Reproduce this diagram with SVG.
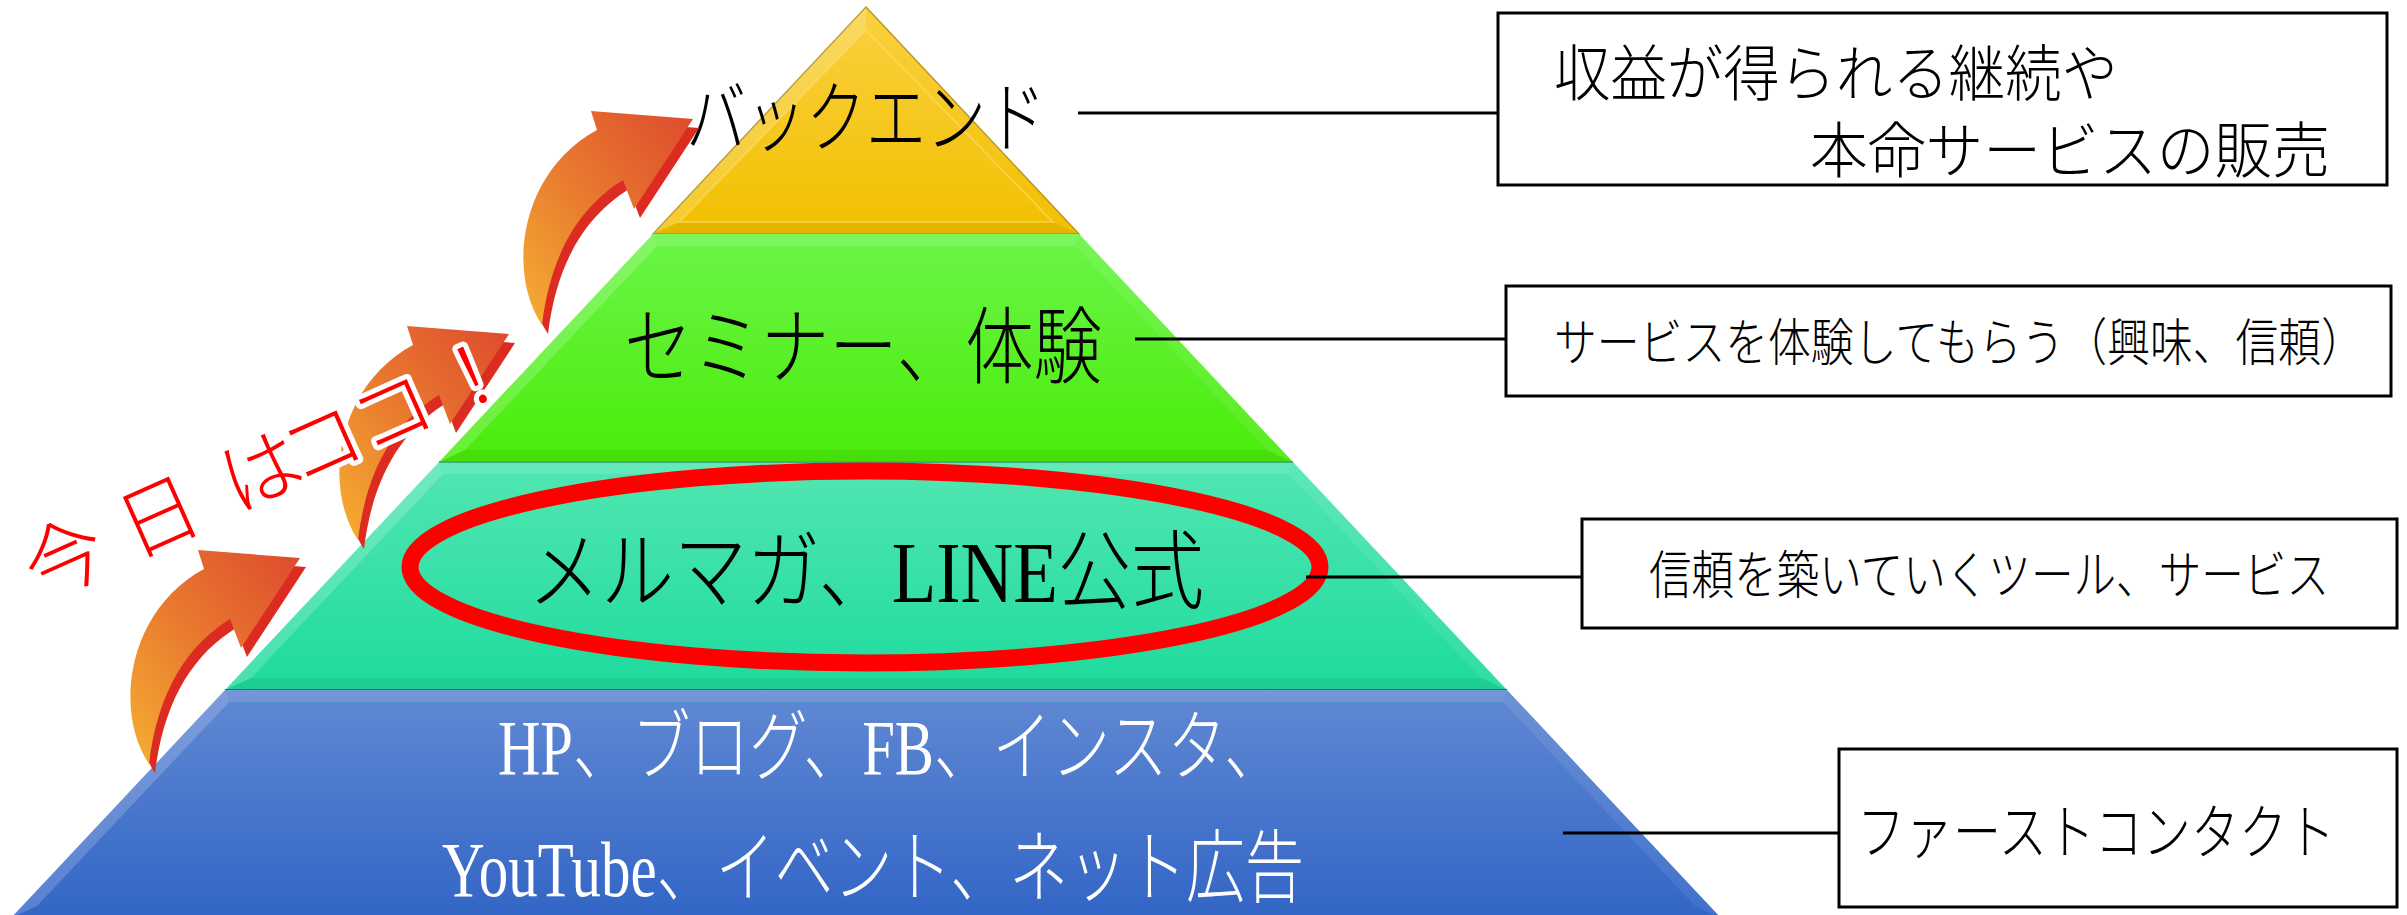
<svg xmlns="http://www.w3.org/2000/svg" xmlns:xlink="http://www.w3.org/1999/xlink" width="2407" height="915" viewBox="0 0 2407 915">
<defs>
<linearGradient id="gY" x1="0" y1="0" x2="0" y2="1"><stop offset="0" stop-color="#FAD040"/><stop offset="1" stop-color="#F2C000"/></linearGradient>
<linearGradient id="gG" x1="0" y1="0" x2="0" y2="1"><stop offset="0" stop-color="#6BF548"/><stop offset="1" stop-color="#4AEC0A"/></linearGradient>
<linearGradient id="gT" x1="0" y1="0" x2="0" y2="1"><stop offset="0" stop-color="#52E6B2"/><stop offset="1" stop-color="#1EDB9D"/></linearGradient>
<linearGradient id="gB" x1="0" y1="0" x2="0" y2="1"><stop offset="0" stop-color="#6189D3"/><stop offset="1" stop-color="#3265C6"/></linearGradient>
<linearGradient id="gA" x1="0" y1="1" x2="1" y2="0"><stop offset="0" stop-color="#F6AE32"/><stop offset="0.5" stop-color="#E8782E"/><stop offset="1" stop-color="#DE4A2E"/></linearGradient>
<path id="arrowPath" d="M0,0 L102,8 L43,98 L32,69 C-10,95 -40,140 -49,214 C-85,160 -70,60 6,19 Z"/>
<g id="arrow">
<use xlink:href="#arrowPath" transform="translate(6,9)" fill="#DC2C22"/>
<use xlink:href="#arrowPath" fill="url(#gA)"/>
</g>
</defs>
<style>
.lt{fill:#fff;fill-opacity:.18}
.rt{fill:#fff;fill-opacity:.08}
.bt{fill:#000;fill-opacity:.06}
.tp{fill:#fff;fill-opacity:.12}
.jp{font-family:'Noto Sans CJK JP',sans-serif;font-weight:300;fill:#000}
.mix{font-family:'Liberation Serif','Noto Sans CJK JP',serif;font-weight:300}
.box{fill:#fff;stroke:#000;stroke-width:3}
.conn line{stroke:#000;stroke-width:3}
</style>
<rect width="2407" height="915" fill="#fff"/>

<g id="tier-backend">
<polygon points="866,7 1079,234 653,234" fill="url(#gY)" stroke="#B8962A" stroke-width="1.5"/>
<polygon class="lt" points="866,7 866,30 679,222 653,234"/>
<polygon class="bt" points="653,234 679,222 1053,222 1079,234"/>
<polygon points="866,30 1053,222 679,222" fill="none" stroke="#FFE070" stroke-opacity=".5" stroke-width="2"/>
<text class="jp" transform="translate(686,146) scale(1,1.3)" font-size="60" textLength="360" lengthAdjust="spacingAndGlyphs">バックエンド</text>
</g>

<g id="tier-seminar">
<polygon points="653,234 1079,234 1293,462 439,462" fill="url(#gG)"/>
<polygon class="tp" points="653,234 1079,234 1075,246 657,246"/>
<polygon class="lt" points="653,234 657,246 465,450 439,462"/>
<polygon class="rt" points="1079,234 1293,462 1267,450 1075,246"/>
<polygon class="bt" points="439,462 465,450 1267,450 1293,462"/>
<text class="jp" transform="translate(624,377) scale(1,1.23)" font-size="68" textLength="478" lengthAdjust="spacingAndGlyphs">セミナー、体験</text>
</g>

<g id="tier-mailmag">
<polygon points="439,462 1293,462 1507,690 225,690" fill="url(#gT)"/>
<polygon class="tp" points="439,462 1293,462 1289,474 443,474"/>
<polygon class="lt" points="439,462 443,474 251,678 225,690"/>
<polygon class="rt" points="1293,462 1507,690 1481,678 1289,474"/>
<polygon class="bt" points="225,690 251,678 1481,678 1507,690"/>
<line x1="439" y1="462" x2="1293" y2="462" stroke="#3BB07A" stroke-width="2"/>
<line x1="225" y1="690" x2="1507" y2="690" stroke="#1A7A50" stroke-width="2"/>
<text class="mix" transform="translate(528,602) scale(1,1.18)" font-size="73" fill="#000" textLength="676" lengthAdjust="spacingAndGlyphs">メルマガ、LINE公式</text>
<ellipse cx="865" cy="567" rx="455" ry="96" fill="none" stroke="#FF0000" stroke-width="17"/>
</g>

<g id="tier-contact">
<polygon points="225,690 1507,690 1721,918 11,918" fill="url(#gB)"/>
<polygon class="tp" points="225,690 1507,690 1503,702 229,702"/>
<polygon class="lt" points="225,690 229,702 37,906 11,918"/>
<polygon class="rt" points="1507,690 1721,918 1695,906 1503,702"/>
<text class="mix" transform="translate(498,774) scale(1,1.34)" font-size="58" fill="#fff" textLength="785" lengthAdjust="spacingAndGlyphs">HP、ブログ、FB、インスタ、</text>
<text class="mix" transform="translate(442,896) scale(1,1.35)" font-size="58.5" fill="#fff" textLength="862" lengthAdjust="spacingAndGlyphs">YouTube、イベント、ネット広告</text>
</g>

<g id="arrows">
<use xlink:href="#arrow" transform="translate(198,550)"/>
<use xlink:href="#arrow" transform="translate(407,326)"/>
<use xlink:href="#arrow" transform="translate(591,111)"/>
</g>

<g id="today-label">
<text transform="translate(64,557) rotate(-24)" y="30" x="0 103 215 282 359 447" text-anchor="middle" font-family="'Noto Sans CJK JP',sans-serif" font-weight="300" font-size="80" fill="#FF0000" stroke="#fff" stroke-width="10" stroke-linejoin="round" paint-order="stroke">今日はココ！</text>
</g>

<g class="conn" id="connectors">
<line x1="1078" y1="113" x2="1498" y2="113"/>
<line x1="1135" y1="339" x2="1506" y2="339"/>
<line x1="1306" y1="577" x2="1582" y2="577"/>
<line x1="1563" y1="833" x2="1839" y2="833"/>
</g>

<g id="box-backend">
<rect class="box" x="1498" y="13" width="889" height="172"/>
<text class="jp" transform="translate(1554,96) scale(1,1.1)" font-size="56" textLength="564" lengthAdjust="spacingAndGlyphs">収益が得られる継続や</text>
<text class="jp" transform="translate(1810,173) scale(1,1.08)" font-size="57" textLength="520" lengthAdjust="spacingAndGlyphs">本命サービスの販売</text>
</g>

<g id="box-seminar">
<rect class="box" x="1506" y="286" width="885" height="110"/>
<text class="jp" transform="translate(1554,361) scale(1,1.2)" font-size="42.5" textLength="810" lengthAdjust="spacingAndGlyphs">サービスを体験してもらう（興味、信頼）</text>
</g>

<g id="box-mailmag">
<rect class="box" x="1582" y="519" width="815" height="109"/>
<text class="jp" transform="translate(1649,594) scale(1,1.22)" font-size="42.5" textLength="680" lengthAdjust="spacingAndGlyphs">信頼を築いていくツール、サービス</text>
</g>

<g id="box-contact">
<rect class="box" x="1839" y="749" width="558" height="158"/>
<text class="jp" transform="translate(1857,854) scale(1,1.25)" font-size="47.8" textLength="478" lengthAdjust="spacingAndGlyphs">ファーストコンタクト</text>
</g>
</svg>
